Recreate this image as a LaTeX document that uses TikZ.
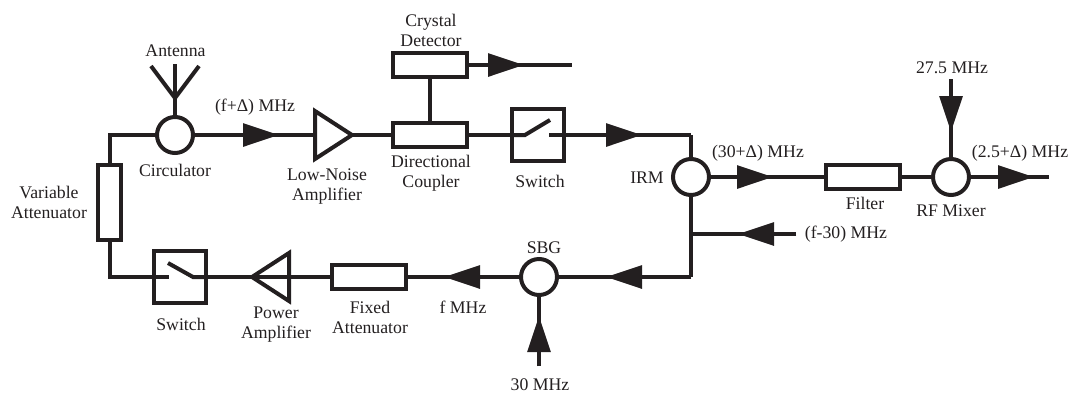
\documentclass[tikz,border=0pt]{standalone}
\usepackage{fontspec}
\setmainfont{Liberation Serif}
\usetikzlibrary{arrows.meta,shapes.geometric}
\definecolor{ink}{HTML}{231F20}

\begin{document}
\begin{tikzpicture}[x=0.75pt, y=-0.75pt]
	\tikzstyle{wire} = [draw=ink, line width=3pt];
	\tikzstyle{flow} = [wire, shorten >=-3pt, -{Triangle[length=27pt, width=17pt]}];
	\tikzstyle{port} = [wire, circle, inner sep=0pt, minimum size=27pt];
	\tikzstyle{block} = [wire, rectangle, inner sep=0pt, minimum width=55.5pt, minimum height=17.5pt];
	\tikzstyle{toggle} = [wire, rectangle, inner sep=0pt, minimum size=39pt];
	\tikzstyle{amp} = [wire, isosceles triangle, isosceles triangle stretches, inner sep=0pt, outer sep=0pt, minimum width=36pt, minimum height=27.75pt, anchor=apex];
	\tikzstyle{info} = [font={\fontsize{13.3}{15}\selectfont}, align=center, inner sep=0pt, text=ink];
	\useasboundingbox (0,0) rectangle (1071,394);

	% blocks
	\node[port] (circulator) at (175,135) {};
	\node[amp] (lna) at (352,135) {};
	\node[block] (coupler) at (430,135) {};
	\node[block] (detector) at (430,65) {};
	\node[toggle] (rxswitch) at (538,135) {};
	\node[port] (irm) at (691,177) {};
	\node[block] (filter) at (862.5,177) {};
	\node[port] (mixer) at (951,177) {};
	\node[port] (sbg) at (539,277) {};
	\node[block] (fixedatt) at (369,277) {};
	\node[amp, shape border rotate=180] (pa) at (252,277) {};
	\node[toggle] (txswitch) at (180,277) {};
	\node[block, minimum width=17.5pt, minimum height=56.5pt] (varatt) at (109.5,202.5) {};

	% arrow tips and free ends
	\coordinate (tipcirc) at (275,135);
	\coordinate (tiprx) at (638,135);
	\coordinate (tipdet) at (520,65);
	\coordinate (enddet) at (572,65);
	\coordinate (tipirm) at (769,177);
	\coordinate (tipmix) at (1030,177);
	\coordinate (endmix) at (1049,177);
	\coordinate (startlo) at (951,79);
	\coordinate (tiplo) at (951,128);
	\coordinate (looptop) at (691,135);
	\coordinate (loopend) at (691,277);
	\coordinate (junction) at (691,234);
	\coordinate (startf) at (796,234);
	\coordinate (tipf) at (742,234);
	\coordinate (tipsbg) at (610,277);
	\coordinate (tipatt) at (448,277);
	\coordinate (startref) at (539,366);
	\coordinate (tipref) at (539,320);
	\coordinate (anttop) at (175,64);
	\coordinate (antfork) at (175,98);
	\coordinate (antleft) at (151,66);
	\coordinate (antright) at (199,66);

	% wires with a flow arrow on them
	\foreach \from/\tip/\to in {circulator/tipcirc/lna.west, rxswitch/tiprx/looptop, detector/tipdet/enddet, irm/tipirm/filter, mixer/tipmix/endmix, startlo/tiplo/mixer, startf/tipf/junction, loopend/tipsbg/sbg, sbg/tipatt/fixedatt, startref/tipref/sbg} {
		\draw[wire] (\from) -- (\to);
		\draw[flow] (\from) -- (\tip);
	}

	% plain wires
	\draw[wire] (looptop) -- (irm);
	\draw[wire] (irm) -- (loopend);
	\draw[wire] (lna.apex) -- (coupler);
	\draw[wire] (coupler) -- (rxswitch);
	\draw[wire] (coupler) -- (detector);
	\draw[wire] (filter) -- (mixer);
	\draw[wire] (fixedatt) -- (pa.west);
	\draw[wire] (pa.apex) -- (txswitch);
	\draw[wire] (circulator) -| (varatt);
	\draw[wire] (varatt) |- (txswitch);
	\draw[wire] (anttop) -- (circulator);
	\draw[wire] (antleft) -- (antfork) -- (antright);

	% switch blades
	\draw[wire] (rxswitch.west) -- ++(15,0) -- ++(25,-15);
	\draw[wire] (rxswitch.east) -- ++(-17,0);
	\draw[wire] (txswitch.east) -- ++(-15,0) -- ++(-25,-14);
	\draw[wire] (txswitch.west) -- ++(17,0);

	% labels
	\node[info] (antennatext) at (175.5,51) {Antenna};
	\node[info] (circulatortext) at (175,170) {Circulator};
	\node[info] (infreqtext) at (255,107) {(f+Δ) MHz};
	\node[info] (lnatext) at (327,187) {Low-Noise\\Amplifier};
	\node[info] (detectortext) at (431,30) {Crystal\\Detector};
	\node[info] (couplertext) at (431,173) {Directional\\Coupler};
	\node[info] (rxswitchtext) at (540,181) {Switch};
	\node[info] (irmtext) at (647,178) {IRM};
	\node[info] (iftext) at (758,153) {(30+Δ) MHz};
	\node[info] (filtertext) at (865,203) {Filter};
	\node[info] (mixertext) at (951,211) {RF Mixer};
	\node[info] (lotext) at (952,68) {27.5 MHz};
	\node[info] (outtext) at (1020,153) {(2.5+Δ) MHz};
	\node[info] (injecttext) at (846,234) {(f-30) MHz};
	\node[info] (varatttext) at (49,202) {Variable\\Attenuator};
	\node[info] (txswitchtext) at (181,324) {Switch};
	\node[info] (patext) at (276,325) {Power\\Amplifier};
	\node[info] (fixedatttext) at (370,317) {Fixed\\Attenuator};
	\node[info] (ftext) at (463,307) {f MHz};
	\node[info] (sbgtext) at (544,248) {SBG};
	\node[info] (reftext) at (540,385) {30 MHz};
\end{tikzpicture}
\end{document}
